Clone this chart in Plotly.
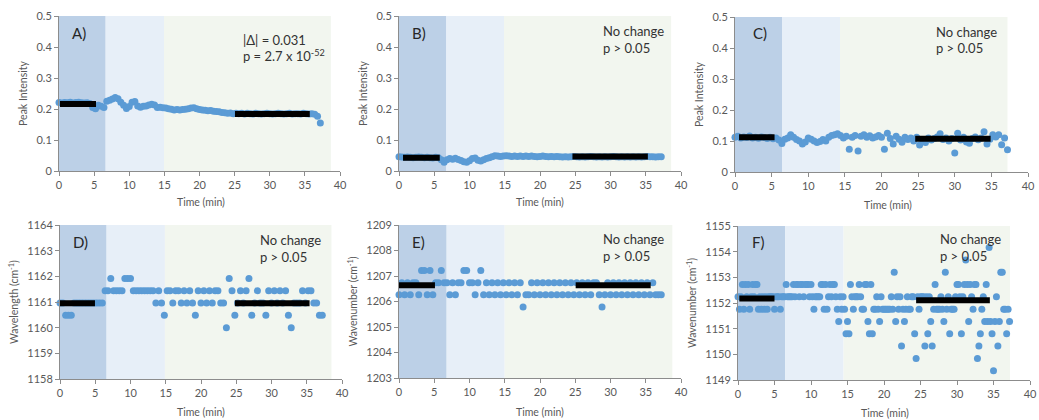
import plotly.graph_objects as go

W, H = 1039, 420

# ---------------- data ----------------
time_coarse = [
    0.0, 0.4, 0.8, 1.2, 1.6, 2.0, 2.4, 2.8, 3.2, 3.6,
    4.0, 4.4, 4.8, 5.2, 5.6, 6.0, 6.4, 6.8, 7.2, 7.6,
    8.0, 8.4, 8.8, 9.2, 9.6, 10.0, 10.4, 10.8, 11.2, 11.6,
    12.0, 12.4, 12.8, 13.2, 13.6, 14.0, 14.4, 14.8, 15.2, 15.6,
    16.0, 16.4, 16.8, 17.2, 17.6, 18.0, 18.4, 18.8, 19.2, 19.6,
    20.0, 20.4, 20.8, 21.2, 21.6, 22.0, 22.4, 22.8, 23.2, 23.6,
    24.0, 24.4, 24.8, 25.2, 25.6, 26.0, 26.4, 26.8, 27.2, 27.6,
    28.0, 28.4, 28.8, 29.2, 29.6, 30.0, 30.4, 30.8, 31.2, 31.6,
    32.0, 32.4, 32.8, 33.2, 33.6, 34.0, 34.4, 34.8, 35.2, 35.6,
    36.0, 36.4, 36.8, 37.2]

time_fine = [
    0.0, 0.2, 0.4, 0.6, 0.8, 1.0, 1.2, 1.4, 1.6, 1.8,
    2.0, 2.2, 2.4, 2.6, 2.8, 3.0, 3.2, 3.4, 3.6, 3.8,
    4.0, 4.2, 4.4, 4.6, 4.8, 5.0, 5.2, 5.4, 5.6, 5.8,
    6.0, 6.2, 6.4, 6.6, 6.8, 7.0, 7.2, 7.4, 7.6, 7.8,
    8.0, 8.2, 8.4, 8.6, 8.8, 9.0, 9.2, 9.4, 9.6, 9.8,
    10.0, 10.2, 10.4, 10.6, 10.8, 11.0, 11.2, 11.4, 11.6, 11.8,
    12.0, 12.2, 12.4, 12.6, 12.8, 13.0, 13.2, 13.4, 13.6, 13.8,
    14.0, 14.2, 14.4, 14.6, 14.8, 15.0, 15.2, 15.4, 15.6, 15.8,
    16.0, 16.2, 16.4, 16.6, 16.8, 17.0, 17.2, 17.4, 17.6, 17.8,
    18.0, 18.2, 18.4, 18.6, 18.8, 19.0, 19.2, 19.4, 19.6, 19.8,
    20.0, 20.2, 20.4, 20.6, 20.8, 21.0, 21.2, 21.4, 21.6, 21.8,
    22.0, 22.2, 22.4, 22.6, 22.8, 23.0, 23.2, 23.4, 23.6, 23.8,
    24.0, 24.2, 24.4, 24.6, 24.8, 25.0, 25.2, 25.4, 25.6, 25.8,
    26.0, 26.2, 26.4, 26.6, 26.8, 27.0, 27.2, 27.4, 27.6, 27.8,
    28.0, 28.2, 28.4, 28.6, 28.8, 29.0, 29.2, 29.4, 29.6, 29.8,
    30.0, 30.2, 30.4, 30.6, 30.8, 31.0, 31.2, 31.4, 31.6, 31.8,
    32.0, 32.2, 32.4, 32.6, 32.8, 33.0, 33.2, 33.4, 33.6, 33.8,
    34.0, 34.2, 34.4, 34.6, 34.8, 35.0, 35.2, 35.4, 35.6, 35.8,
    36.0, 36.2, 36.4, 36.6, 36.8, 37.0, 37.2]

peak_A = [
    0.221, 0.219, 0.221, 0.220, 0.222, 0.219, 0.221, 0.222, 0.220, 0.219,
    0.220, 0.218, 0.205, 0.201, 0.212, 0.209, 0.205, 0.225, 0.228, 0.232,
    0.237, 0.233, 0.222, 0.212, 0.202, 0.208, 0.222, 0.224, 0.210, 0.206,
    0.209, 0.210, 0.213, 0.215, 0.213, 0.205, 0.206, 0.204, 0.203, 0.201,
    0.199, 0.197, 0.198, 0.197, 0.198, 0.199, 0.201, 0.203, 0.204, 0.201,
    0.198, 0.197, 0.196, 0.194, 0.195, 0.193, 0.192, 0.191, 0.189, 0.188,
    0.186, 0.187, 0.185, 0.186, 0.185, 0.186, 0.184, 0.186, 0.185, 0.184,
    0.186, 0.185, 0.184, 0.185, 0.186, 0.185, 0.184, 0.185, 0.186, 0.185,
    0.184, 0.185, 0.186, 0.184, 0.185, 0.185, 0.184, 0.186, 0.185, 0.184,
    0.185, 0.183, 0.177, 0.155]

peak_B = [
    0.046, 0.045, 0.044, 0.045, 0.044, 0.043, 0.044, 0.045, 0.044, 0.043,
    0.044, 0.043, 0.042, 0.044, 0.043, 0.036, 0.028, 0.036, 0.040, 0.038,
    0.041, 0.037, 0.034, 0.030, 0.028, 0.033, 0.040, 0.042, 0.035, 0.032,
    0.036, 0.040, 0.043, 0.046, 0.049, 0.048, 0.047, 0.048, 0.049, 0.048,
    0.047, 0.048, 0.047, 0.048, 0.047, 0.048, 0.047, 0.048, 0.047, 0.046,
    0.047, 0.048, 0.047, 0.046, 0.047, 0.046, 0.047, 0.046, 0.045, 0.046,
    0.045, 0.046, 0.047, 0.046, 0.045, 0.046, 0.045, 0.046, 0.047, 0.046,
    0.045, 0.046, 0.045, 0.046, 0.045, 0.046, 0.047, 0.046, 0.045, 0.046,
    0.045, 0.046, 0.045, 0.046, 0.045, 0.046, 0.045, 0.046, 0.047, 0.046,
    0.046, 0.045, 0.046, 0.046]

peak_C = [
    0.112, 0.115, 0.110, 0.113, 0.111, 0.116, 0.110, 0.112, 0.109, 0.113,
    0.111, 0.108, 0.112, 0.107, 0.110, 0.103, 0.092, 0.106, 0.110, 0.120,
    0.112, 0.105, 0.100, 0.090, 0.097, 0.110, 0.106, 0.100, 0.095, 0.098,
    0.105, 0.100, 0.112, 0.118, 0.120, 0.123, 0.118, 0.110, 0.115, 0.073,
    0.112, 0.118, 0.068, 0.115, 0.120, 0.112, 0.117, 0.110, 0.113, 0.118,
    0.112, 0.073, 0.125, 0.108, 0.090, 0.115, 0.106, 0.096, 0.112, 0.105,
    0.110, 0.100, 0.112, 0.087, 0.105, 0.095, 0.110, 0.103, 0.108, 0.113,
    0.123, 0.105, 0.110, 0.100, 0.108, 0.061, 0.125, 0.103, 0.112, 0.097,
    0.093, 0.108, 0.113, 0.104, 0.110, 0.130, 0.090, 0.106, 0.120, 0.113,
    0.120, 0.088, 0.110, 0.072]

wavelength_D = [
    1160.96, 1160.96, 1160.48, 1160.48, 1160.48, 1160.96, 1160.96, 1160.96, 1160.96, 1160.96,
    1160.96, 1160.96, 1160.96, 1160.96, 1160.96, 1160.96, 1161.44, 1161.44, 1161.92, 1161.44,
    1161.44, 1161.44, 1161.44, 1161.92, 1161.92, 1161.92, 1161.44, 1161.44, 1161.44, 1161.44,
    1161.44, 1161.44, 1161.44, 1161.44, 1160.96, 1161.44, 1160.96, 1160.48, 1161.44, 1161.44,
    1160.96, 1161.44, 1161.44, 1160.96, 1161.44, 1160.96, 1161.44, 1160.96, 1160.48, 1161.44,
    1160.96, 1161.44, 1160.96, 1161.44, 1160.96, 1161.44, 1161.44, 1160.96, 1160.96, 1160.00,
    1161.92, 1161.44, 1160.48, 1160.96, 1161.44, 1160.96, 1161.44, 1161.92, 1160.48, 1160.96,
    1161.44, 1160.96, 1160.96, 1160.48, 1161.44, 1160.96, 1161.44, 1160.96, 1161.44, 1160.96,
    1161.44, 1160.48, 1160.00, 1160.96, 1160.96, 1160.96, 1161.44, 1160.96, 1161.44, 1161.44,
    1160.96, 1160.96, 1160.48, 1160.48]

wavenumber_E = [
    1206.26, 1206.74, 1206.26, 1206.74, 1206.26, 1206.74, 1206.74, 1206.26, 1207.22, 1207.22,
    1206.26, 1207.22, 1206.26, 1206.74, 1206.74, 1207.22, 1206.74, 1206.74, 1206.26, 1206.74,
    1206.26, 1206.74, 1206.74, 1207.22, 1207.22, 1206.74, 1206.74, 1206.26, 1206.74, 1207.22,
    1206.26, 1206.74, 1206.26, 1206.74, 1206.26, 1206.74, 1206.26, 1206.74, 1206.26, 1206.74,
    1206.26, 1206.74, 1206.26, 1206.74, 1205.78, 1206.26, 1206.26, 1206.74, 1206.26, 1206.74,
    1206.26, 1206.74, 1206.26, 1206.74, 1206.26, 1206.74, 1206.26, 1206.74, 1206.26, 1206.74,
    1206.26, 1206.74, 1206.26, 1206.74, 1206.26, 1206.74, 1206.26, 1206.74, 1206.26, 1206.74,
    1206.74, 1206.26, 1205.78, 1206.26, 1206.74, 1206.26, 1206.74, 1206.26, 1206.74, 1206.26,
    1206.74, 1206.26, 1206.74, 1206.26, 1206.74, 1206.26, 1206.74, 1206.26, 1206.74, 1206.26,
    1206.74, 1206.26, 1206.26, 1206.26]

wavenumber_F = [
    1152.24, 1151.76, 1152.24, 1152.72, 1151.76, 1152.72, 1152.24, 1152.72, 1151.76, 1152.24,
    1152.72, 1152.24, 1152.72, 1152.72, 1151.76, 1152.24, 1151.76, 1152.24, 1151.76, 1152.24,
    1151.76, 1152.24, 1152.24, 1152.24, 1152.24, 1151.76, 1152.24, 1152.24, 1152.24, 1151.76,
    1152.24, 1152.24, 1152.24, 1152.72, 1152.24, 1152.24, 1152.24, 1152.24, 1152.72, 1152.24,
    1152.72, 1152.72, 1152.24, 1152.72, 1152.72, 1152.24, 1152.72, 1152.72, 1152.72, 1152.24,
    1152.72, 1152.24, 1151.76, 1152.24, 1152.24, 1152.24, 1152.24, 1152.72, 1152.72, 1151.76,
    1152.72, 1151.76, 1152.24, 1152.72, 1152.24, 1152.72, 1152.72, 1152.24, 1151.76, 1151.28,
    1152.24, 1151.76, 1152.24, 1151.76, 1150.80, 1151.28, 1150.80, 1152.72, 1152.24, 1151.76,
    1152.24, 1152.24, 1152.24, 1152.72, 1152.24, 1151.76, 1151.76, 1152.72, 1152.72, 1151.28,
    1150.80, 1152.72, 1150.80, 1151.76, 1151.76, 1152.24, 1151.76, 1151.28, 1152.24, 1151.76,
    1151.76, 1151.76, 1151.76, 1151.76, 1151.76, 1152.24, 1151.76, 1153.20, 1151.28, 1152.24,
    1151.76, 1152.24, 1150.32, 1151.76, 1151.28, 1151.76, 1152.24, 1151.76, 1151.76, 1152.24,
    1152.24, 1150.80, 1149.84, 1152.24, 1151.76, 1152.24, 1152.24, 1152.24, 1150.32, 1152.24,
    1150.80, 1152.24, 1151.28, 1150.32, 1151.76, 1152.72, 1151.76, 1151.76, 1151.76, 1152.24,
    1151.76, 1151.28, 1153.20, 1151.76, 1152.24, 1150.80, 1151.76, 1151.76, 1151.76, 1152.24,
    1152.72, 1152.72, 1152.24, 1150.80, 1152.24, 1152.72, 1153.68, 1152.72, 1151.28, 1152.72,
    1152.24, 1151.76, 1152.72, 1152.72, 1149.84, 1150.32, 1150.80, 1151.76, 1152.24, 1151.28,
    1152.72, 1151.28, 1154.16, 1151.28, 1150.80, 1149.36, 1151.28, 1152.24, 1150.32, 1151.28,
    1153.20, 1153.20, 1151.76, 1151.76, 1150.80, 1151.76, 1151.28]

# mean bars: [start, end, level] for the first and last windows
mean_early = [[0.14, 5.27, 0.216], [0.57, 5.78, 0.043], [0.55, 5.40, 0.112],
              [0.0, 4.96, 1160.95], [0.0, 5.10, 1206.64], [0.18, 5.00, 1152.18]]
mean_late = [[25.05, 35.7, 0.184], [24.6, 35.3, 0.047], [24.6, 34.9, 0.1075],
             [24.8, 35.4, 1160.95], [25.06, 35.7, 1206.64], [24.4, 34.5, 1152.11]]

# phase boundaries (min): end of phase 1, end of phase 2, end of phase 3
phase_ends = [[6.64, 14.95, 38.7], [6.72, 14.9, 38.6], [6.42, 14.33, 37.2],
              [6.61, 14.88, 38.5], [6.76, 14.99, 38.77], [6.48, 14.46, 37.26]]

panel_labels = ["A)", "B)", "C)", "D)", "E)", "F)"]
stat_line1 = ["|Δ| = 0.031", "No change", "No change", "No change", "No change", "No change"]
stat_line2 = ["p = 2.7 x 10<sup>-52</sup>", "p > 0.05", "p > 0.05", "p > 0.05", "p > 0.05", "p > 0.05"]
x_title = "Time (min)"
y_titles = ["Peak Intensity", "Peak Intensity", "Peak Intensity",
            "Wavelength (cm<sup>-1</sup>)", "Wavenumber (cm<sup>-1</sup>)", "Wavenumber (cm<sup>-1</sup>)"]
y_ranges = [[0, 0.5], [0, 0.5], [0, 0.5], [1158, 1164], [1203, 1209], [1149, 1155]]
y_dticks = [0.1, 0.1, 0.1, 1, 1, 1]
x_values = [time_coarse, time_coarse, time_coarse, time_coarse, time_coarse, time_fine]
y_values = [peak_A, peak_B, peak_C, wavelength_D, wavenumber_E, wavenumber_F]

# ---------------- layout (pixel geometry) ----------------
plot_boxes = [(59, 340, 16, 171), (399, 681, 16, 171), (735, 1028, 17, 172),
              (60, 342, 225, 379), (399, 681, 225, 378), (738, 1030, 226, 380)]
label_pos = [(70, 33), (410, 33), (751, 33), (71, 242), (410, 242), (750, 242)]
stat_pos = [(241, 40, 56), (601, 31, 48), (934, 32, 48), (258, 240, 257), (601, 239, 256), (938, 239, 256)]
xtitle_pos = [(201, 202), (540, 202), (888, 205), (201, 412), (540, 412), (885, 413)]

FONT = "Lato, 'Open Sans', sans-serif"
AXIS_COL = "#8c8c8c"
TICK_COL = "#595959"
DOT = "#5b9bd5"
PHASE_COLORS = ["#bcd0e7", "#e7eff8", "#f2f6ef"]

fig = go.Figure()
layout = dict(width=W, height=H, margin=dict(l=0, r=0, t=0, b=0, autoexpand=False),
              paper_bgcolor="white", plot_bgcolor="rgba(0,0,0,0)",
              showlegend=False, font=dict(family=FONT, color=TICK_COL))
shapes = []
annotations = []

for i in range(6):
    n = "" if i == 0 else str(i + 1)
    x0p, x1p, y0p, y1p = plot_boxes[i]
    layout["xaxis" + n] = dict(
        domain=[x0p / W, x1p / W], range=[0, 40], dtick=5, tick0=0,
        showline=True, linecolor=AXIS_COL, linewidth=1, ticks="outside",
        ticklen=4, tickcolor=AXIS_COL, showgrid=False, zeroline=False,
        automargin=False,
        anchor="y" + n, tickfont=dict(size=11, color=TICK_COL),
    )
    layout["yaxis" + n] = dict(
        domain=[1 - y1p / H, 1 - y0p / H], range=y_ranges[i], dtick=y_dticks[i],
        tick0=y_ranges[i][0],
        showline=True, linecolor=AXIS_COL, linewidth=1, ticks="outside",
        ticklen=4, tickcolor=AXIS_COL, showgrid=False, zeroline=False,
        automargin=False,
        anchor="x" + n, tickfont=dict(size=11, color=TICK_COL),
        title=dict(text=y_titles[i], font=dict(size=10.5, color=TICK_COL), standoff=6),
    )
    # phase shading
    starts = [0] + phase_ends[i][:2]
    for s, e, c in zip(starts, phase_ends[i], PHASE_COLORS):
        shapes.append(dict(type="rect", xref="x" + n, yref="y" + n + " domain",
                           x0=s, x1=e, y0=0, y1=1, fillcolor=c, line=dict(width=0),
                           layer="below"))
    fig.add_trace(go.Scatter(x=x_values[i], y=y_values[i], mode="markers",
                             marker=dict(size=7, color=DOT, line=dict(width=0)),
                             xaxis="x" + n, yaxis="y" + n, cliponaxis=False,
                             hoverinfo="skip"))
    for bar in (mean_early[i], mean_late[i]):
        fig.add_trace(go.Scatter(x=[bar[0], bar[1]], y=[bar[2], bar[2]], mode="lines",
                                 line=dict(color="black", width=6),
                                 xaxis="x" + n, yaxis="y" + n, hoverinfo="skip"))
    tx, ty = xtitle_pos[i]
    annotations.append(dict(text=x_title, xref="paper", yref="paper",
                            x=tx / W, y=1 - ty / H, xanchor="center", yanchor="middle",
                            showarrow=False, font=dict(size=10.5, color=TICK_COL, family=FONT)))
    lx, ly = label_pos[i]
    annotations.append(dict(text=panel_labels[i], xref="paper", yref="paper",
                            x=lx / W, y=1 - ly / H, xanchor="left", yanchor="middle",
                            showarrow=False, font=dict(size=15, color="#262626", family=FONT)))
    sx, sy1, sy2 = stat_pos[i]
    annotations.append(dict(text=stat_line1[i], xref="paper", yref="paper",
                            x=sx / W, y=1 - sy1 / H, xanchor="left", yanchor="middle",
                            showarrow=False, font=dict(size=13, color="#333333", family=FONT)))
    annotations.append(dict(text=stat_line2[i], xref="paper", yref="paper",
                            x=sx / W, y=1 - sy2 / H, xanchor="left", yanchor="middle",
                            showarrow=False, font=dict(size=13, color="#333333", family=FONT)))

layout["shapes"] = shapes
layout["annotations"] = annotations
fig.update_layout(**layout)
fig.write_html("out.html", config={"displayModeBar": False},
               post_script="document.body.style.margin='0px';document.body.style.overflow='hidden';")
